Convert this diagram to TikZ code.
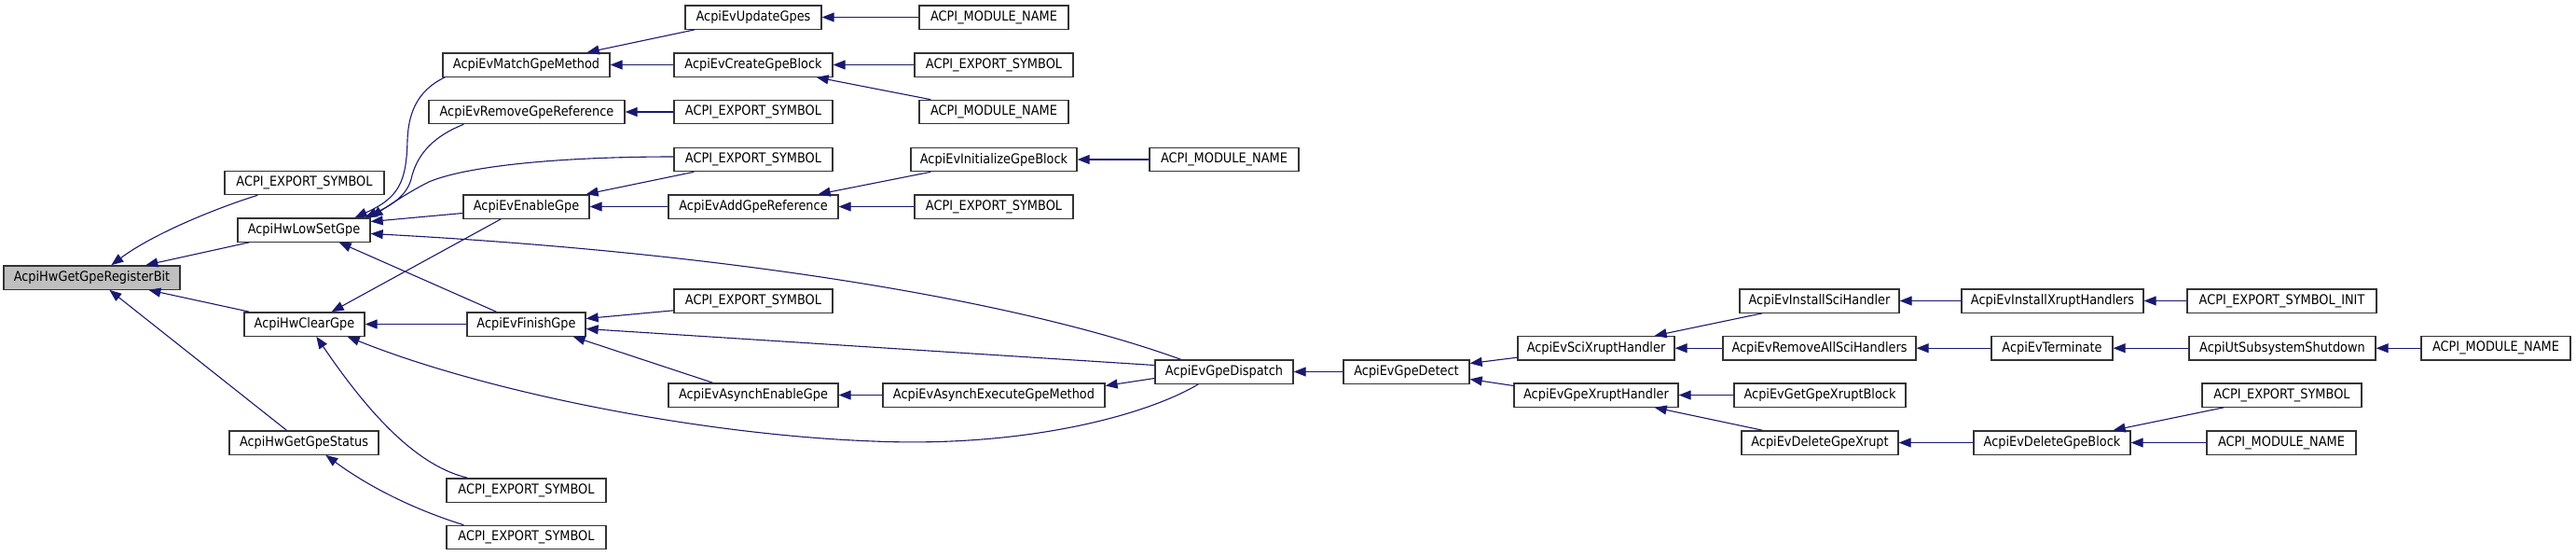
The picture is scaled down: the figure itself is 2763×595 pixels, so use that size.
\documentclass[tikz,border=0pt]{standalone}
\usepackage{fontspec}
\setmainfont[FakeStretch=0.89]{DejaVu Sans}
\usetikzlibrary{arrows.meta,calc}
\definecolor{edgec}{HTML}{191970}
\definecolor{rootfill}{HTML}{BFBFBF}
\begin{document}
\begin{tikzpicture}[x=1pt,y=-1pt,
  box/.style={draw=black!80, line width=1.3pt, fill=white, minimum height=25.3pt, inner sep=0pt, font=\fontsize{14.5}{17}\selectfont},
  rootbox/.style={box, fill=rootfill},
  call/.style={draw=edgec, line width=1.1pt, -{Triangle[length=13pt,width=10pt]}, fill=none}]
\useasboundingbox (0,0) rectangle (2763,595);
\fill[white] (0,0) rectangle (2763,595);
% column 1
\node[rootbox, minimum width=189pt] (root) at (98.5,297.5) {AcpiHwGetGpeRegisterBit};
% column 2
\node[box, minimum width=171pt] (e1) at (326.5,196) {ACPI\_EXPORT\_SYMBOL};
\node[box, minimum width=142pt] (lsg) at (326,246.5) {AcpiHwLowSetGpe};
\node[box, minimum width=129pt] (cg) at (326.5,347.5) {AcpiHwClearGpe};
\node[box, minimum width=160pt] (ggs) at (326,474.5) {AcpiHwGetGpeStatus};
% column 3
\node[box, minimum width=179pt] (mgm) at (564.5,69.5) {AcpiEvMatchGpeMethod};
\node[box, minimum width=210pt] (rgr) at (565,120) {AcpiEvRemoveGpeReference};
\node[box, minimum width=135pt] (eg) at (564.5,221.5) {AcpiEvEnableGpe};
\node[box, minimum width=127pt] (fg) at (564.5,347.5) {AcpiEvFinishGpe};
\node[box, minimum width=171pt] (e2) at (564.5,525.5) {ACPI\_EXPORT\_SYMBOL};
\node[box, minimum width=171pt] (e3) at (564.5,576) {ACPI\_EXPORT\_SYMBOL};
% column 4
\node[box, minimum width=146pt] (ug) at (808,18.5) {AcpiEvUpdateGpes};
\node[box, minimum width=170pt] (cgb) at (808,69.5) {AcpiEvCreateGpeBlock};
\node[box, minimum width=170pt] (e4) at (808,120) {ACPI\_EXPORT\_SYMBOL};
\node[box, minimum width=170pt] (e5) at (808,171) {ACPI\_EXPORT\_SYMBOL};
\node[box, minimum width=182pt] (agr) at (808,221.5) {AcpiEvAddGpeReference};
\node[box, minimum width=170pt] (e6) at (808,322.5) {ACPI\_EXPORT\_SYMBOL};
\node[box, minimum width=182pt] (aeg) at (808,423.5) {AcpiEvAsynchEnableGpe};
% column 5
\node[box, minimum width=160pt] (m1) at (1066,18.5) {ACPI\_MODULE\_NAME};
\node[box, minimum width=170pt] (e7) at (1066,69.5) {ACPI\_EXPORT\_SYMBOL};
\node[box, minimum width=160pt] (m2) at (1066,120) {ACPI\_MODULE\_NAME};
\node[box, minimum width=178pt] (igb) at (1066,171) {AcpiEvInitializeGpeBlock};
\node[box, minimum width=170pt] (e8) at (1066,221.5) {ACPI\_EXPORT\_SYMBOL};
\node[box, minimum width=238pt] (aegm) at (1066,423.5) {AcpiEvAsynchExecuteGpeMethod};
% column 6
\node[box, minimum width=160pt] (m3) at (1313,171) {ACPI\_MODULE\_NAME};
\node[box, minimum width=148pt] (gd) at (1313,398.5) {AcpiEvGpeDispatch};
% column 7
\node[box, minimum width=135pt] (gdet) at (1508.5,398.5) {AcpiEvGpeDetect};
% column 8
\node[box, minimum width=168pt] (sxh) at (1712,373.2) {AcpiEvSciXruptHandler};
\node[box, minimum width=176pt] (gxh) at (1712,423.5) {AcpiEvGpeXruptHandler};
% column 9
\node[box, minimum width=171pt] (isci) at (1951.5,322.5) {AcpiEvInstallSciHandler};
\node[box, minimum width=207pt] (rash) at (1951.5,373.2) {AcpiEvRemoveAllSciHandlers};
\node[box, minimum width=184pt] (ggxb) at (1952,423.5) {AcpiEvGetGpeXruptBlock};
\node[box, minimum width=168pt] (dgx) at (1952,474.5) {AcpiEvDeleteGpeXrupt};
% column 10
\node[box, minimum width=195pt] (ixh) at (2201.5,322.5) {AcpiEvInstallXruptHandlers};
\node[box, minimum width=130pt] (term) at (2201,373.2) {AcpiEvTerminate};
\node[box, minimum width=168pt] (dgb) at (2201,474.5) {AcpiEvDeleteGpeBlock};
% column 11
\node[box, minimum width=203pt] (esi) at (2447.5,322.5) {ACPI\_EXPORT\_SYMBOL\_INIT};
\node[box, minimum width=200pt] (uss) at (2448,373.2) {AcpiUtSubsystemShutdown};
\node[box, minimum width=171pt] (e9) at (2447.5,423.5) {ACPI\_EXPORT\_SYMBOL};
\node[box, minimum width=160pt] (m4) at (2447,474.5) {ACPI\_MODULE\_NAME};
% column 12
\node[box, minimum width=160pt] (m5) at (2677,373.2) {ACPI\_MODULE\_NAME};

% edges into root
\draw[call] ($(e1.south west)+(36,0)$) .. controls (235,222) and (165,250) .. ($(root.north west)+(116,0)$);
\draw[call] ($(lsg.south west)+(13,0)$) -- ($(root.north west)+(153,0)$);
\draw[call] ($(cg.north west)+(6,0)$) -- ($(root.south west)+(156,0)$);
\draw[call] ($(ggs.north west)+(62,0)$) -- ($(root.south west)+(114,0)$);
% edges into AcpiHwLowSetGpe
\draw[call] ($(mgm.south west)+(3,0)$) .. controls (445,98) and (438,125) .. (437,150) .. controls (436,195) and (428,212) .. ($(lsg.north east)+(-17,0)$);
\draw[call] ($(rgr.south west)+(38,0)$) .. controls (460,148) and (446,170) .. (441,192) .. controls (436,210) and (420,220) .. ($(lsg.north east)+(-6,0)$);
\draw[call] ($(e5.west)+(0,-3)$) .. controls (600,168) and (500,178) .. (460,195) .. controls (440,205) and (422,217) .. (lsg.north east);
\draw[call] ($(eg.west)+(0,7)$) -- ($(lsg.east)+(0,-9)$);
\draw[call] ($(gd.north west)+(28,0)$) .. controls (1100,325) and (800,272) .. ($(lsg.east)+(0,4)$);
\draw[call] ($(fg.north west)+(32,0)$) -- ($(lsg.south east)+(-34,0)$);
% edges into AcpiHwClearGpe
\draw[call] ($(eg.south west)+(41,0)$) -- ($(cg.north east)+(-36,0)$);
\draw[call] (fg.west) -- (cg.east);
\draw[call] ($(gd.south west)+(47,0)$) .. controls (1230,445) and (1100,480) .. (937,473) .. controls (750,466) and (520,420) .. ($(cg.south east)+(-19,0)$);
\draw[call] ($(e2.north west)+(23,0)$) .. controls (450,500) and (400,450) .. ($(cg.south west)+(78,0)$);
% edge into AcpiHwGetGpeStatus
\draw[call] ($(e3.north west)+(19,0)$) .. controls (450,548) and (400,525) .. ($(ggs.south west)+(104,0)$);
% column 3/4 edges
\draw[call] ($(ug.south west)+(11,0)$) -- ($(mgm.north east)+(-25,0)$);
\draw[call] (cgb.west) -- (mgm.east);
\draw[call] (m1.west) -- (ug.east);
\draw[call] (e7.west) -- (cgb.east);
\draw[call] ($(m2.north west)+(13,0)$) -- ($(cgb.south east)+(-18,0)$);
\draw[call] (e4.west) -- (rgr.east);
\draw[call] (agr.west) -- (eg.east);
\draw[call] ($(e5.south west)+(22,0)$) -- ($(eg.north east)+(-4,0)$);
\draw[call] ($(igb.south west)+(22,0)$) -- ($(agr.north east)+(-22,0)$);
\draw[call] (e8.west) -- (agr.east);
\draw[call] (m3.west) -- (igb.east);
% edges into AcpiEvFinishGpe
\draw[call] ($(e6.south west)+(0,-3)$) -- ($(fg.east)+(0,-6)$);
\draw[call] ($(gd.west)+(0,-7)$) -- ($(fg.east)+(0,5)$);
\draw[call] ($(aeg.north west)+(48,0)$) -- ($(fg.south east)+(-14,0)$);
\draw[call] (aegm.west) -- (aeg.east);
\draw[call] ($(gd.west)+(0,7)$) -- ($(aegm.east)+(0,-10)$);
% right part
\draw[call] (gdet.west) -- (gd.east);
\draw[call] ($(sxh.west)+(0,10)$) -- ($(gdet.east)+(0,-9)$);
\draw[call] ($(gxh.west)+(0,-10)$) -- ($(gdet.east)+(0,8)$);
\draw[call] ($(isci.south west)+(25,0)$) -- ($(sxh.north east)+(-22,0)$);
\draw[call] (rash.west) -- (sxh.east);
\draw[call] (ggxb.west) -- (gxh.east);
\draw[call] ($(dgx.north west)+(23,0)$) -- ($(gxh.south east)+(-26,0)$);
\draw[call] (ixh.west) -- (isci.east);
\draw[call] (esi.west) -- (ixh.east);
\draw[call] (term.west) -- (rash.east);
\draw[call] (uss.west) -- (term.east);
\draw[call] (m5.west) -- (uss.east);
\draw[call] (dgb.west) -- (dgx.east);
\draw[call] ($(e9.south west)+(24,0)$) -- ($(dgb.north east)+(-19,0)$);
\draw[call] (m4.west) -- (dgb.east);
\end{tikzpicture}
\end{document}
